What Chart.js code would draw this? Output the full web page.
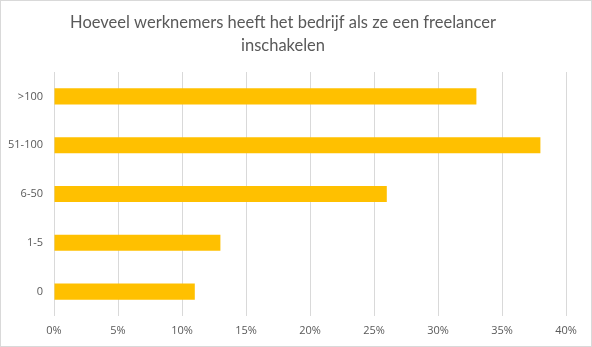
<!DOCTYPE html>
<html>
<head>
<meta charset="utf-8">
<script src="https://cdn.jsdelivr.net/npm/chart.js@4"></script>
<style>
  html, body { margin: 0; padding: 0; background: #fff; }
  #wrap { width: 592px; height: 347px; position: relative; }
</style>
</head>
<body>
<div id="wrap"><canvas id="c"></canvas></div>
<script>
const titleLines = ['Hoeveel werknemers heeft het bedrijf als ze een freelancer', 'inschakelen'];
const categories = ['>100', '51-100', '6-50', '1-5', '0'];
const shares = [33, 38, 26, 13, 11];
const xTicks = [0, 5, 10, 15, 20, 25, 30, 35, 40];

const TITLE_FONT = 'Lato, "Open Sans", sans-serif';
const TICK_FONT = '"Open Sans", Lato, sans-serif';
const TEXT = '#595959';
const GRID = '#d9d9d9';

// thin light-grey frame around the whole canvas
const frame = {
  id: 'frame',
  afterDraw(chart) {
    const ctx = chart.ctx;
    ctx.save();
    ctx.strokeStyle = GRID;
    ctx.lineWidth = 1;
    ctx.strokeRect(0.5, 0.5, chart.width - 1, chart.height - 1);
    ctx.restore();
  }
};

new Chart(document.getElementById('c'), {
  type: 'bar',
  data: {
    labels: categories,
    datasets: [{
      data: shares,
      backgroundColor: '#FFC000',
      borderWidth: 0,
      categoryPercentage: 1,
      barPercentage: 0.33
    }]
  },
  options: {
    indexAxis: 'y',
    responsive: true,
    maintainAspectRatio: false,
    animation: false,
    layout: { padding: { left: 0, right: 26, top: 0, bottom: 0 } },
    plugins: {
      legend: { display: false },
      tooltip: { enabled: false },
      title: {
        display: true,
        text: titleLines,
        color: TEXT,
        font: { family: TITLE_FONT, size: 16.5, weight: 'normal', lineHeight: 1.394 },
        padding: { top: 11.5, bottom: 14.5 }
      }
    },
    scales: {
      x: {
        min: 0,
        max: 40,
        afterBuildTicks(scale) { scale.ticks = xTicks.map(v => ({ value: v })); },
        afterFit(scale) { scale.height = 31; },
        grid: { color: GRID, drawTicks: false },
        border: { display: false },
        ticks: {
          color: TEXT,
          padding: 8,
          font: { family: TICK_FONT, size: 11 },
          callback: v => v + '%'
        }
      },
      y: {
        afterFit(scale) { scale.width = 54; },
        grid: { display: false, drawTicks: false },
        border: { display: false },
        ticks: {
          color: TEXT,
          padding: 11,
          font: { family: TICK_FONT, size: 11 }
        }
      }
    }
  },
  plugins: [frame]
});
</script>
</body>
</html>
